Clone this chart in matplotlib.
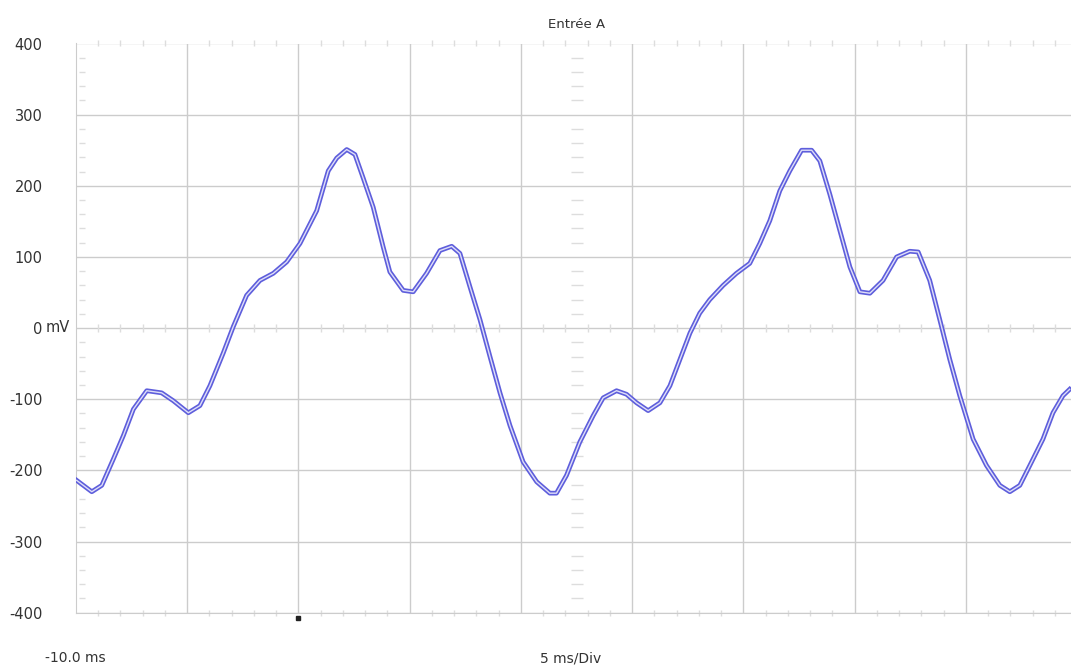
import numpy as np
import matplotlib
matplotlib.use('Agg')
import matplotlib.pyplot as plt

# trace: time in ms, voltage in mV
time_ms = [-9.97, -9.29, -8.84, -8.32, -7.87, -7.42, -6.82, -6.15, -5.63, -4.95,
           -4.43, -3.98, -3.38, -2.93, -2.33, -1.73, -1.13, -0.53, 0.07, 0.82,
           1.34, 1.72, 2.17, 2.54, 2.91, 3.36, 3.81, 4.11, 4.71, 5.16,
           5.76, 6.36, 6.89, 7.26, 7.71, 8.16, 8.61, 9.06, 9.51, 10.10,
           10.71, 11.30, 11.60, 12.05, 12.65, 13.25, 13.70, 14.30, 14.75, 15.20,
           15.72, 16.25, 16.70, 17.15, 17.60, 18.04, 18.49, 19.09, 19.69, 20.29,
           20.74, 21.19, 21.64, 22.09, 22.62, 23.07, 23.44, 23.89, 24.34, 24.79,
           25.24, 25.69, 26.28, 26.89, 27.48, 27.86, 28.38, 28.83, 29.28, 29.73,
           30.33, 30.93, 31.53, 31.98, 32.43, 32.88, 33.47, 33.92, 34.37, 34.67]
volt_mv = [-214, -230, -221, -184, -151, -114, -88, -91, -102, -119,
           -109, -81, -35, 2, 46, 67, 77, 93, 119, 165,
           221, 239, 251, 244, 211, 170, 114, 79, 53, 51,
           77, 109, 115, 105, 58, 12, -40, -91, -137, -188,
           -216, -232, -232, -207, -160, -123, -98, -88, -93, -105,
           -116, -105, -81, -44, -7, 21, 40, 60, 77, 91,
           119, 151, 193, 221, 250, 250, 235, 188, 137, 86,
           51, 49, 67, 100, 108, 107, 67, 12, -44, -95,
           -156, -193, -221, -230, -221, -193, -156, -119, -95, -86]

y_ticks = [400, 300, 200, 100, 0, -100, -200, -300, -400]
y_labels = ['400', '300', '200', '100', '0', '-100', '-200', '-300', '-400']

grid_col = '#cccccc'
minor_col = '#dddddd'
trace_col = '#5e5edc'

fig = plt.figure(figsize=(10.71, 6.68), dpi=100)
ax = fig.add_axes([76 / 1071, 55.3 / 668, 1001 / 1071, 569.2 / 668])
ax.set_xlim(-10, 35)
ax.set_ylim(-400, 400)

# major grid
for x in np.arange(-5, 35, 5):
    ax.axvline(x, color=grid_col, lw=1.0, zorder=1)
for y in y_ticks:
    ax.axhline(y, color=grid_col, lw=1.0, zorder=1)

# small graduations: top / bottom edges and the 0 line every 1 ms
minor_x = [v for v in np.arange(-10, 35, 1.0) if v % 5 != 0]
ax.plot(minor_x, [0] * len(minor_x), ls='none', marker='|', ms=6, color=minor_col, mew=1)
ax.plot(minor_x, [400] * len(minor_x), ls='none', marker='|', ms=5, color=minor_col, mew=1, clip_on=False)
ax.plot(minor_x, [-400] * len(minor_x), ls='none', marker='|', ms=5, color=minor_col, mew=1, clip_on=False)
# left edge and centre column every 20 mV
minor_y = [v for v in np.arange(-400, 401, 20) if v % 100 != 0]
ax.plot([-9.75] * len(minor_y), minor_y, ls='none', marker='_', ms=5, color=minor_col, mew=1)
ax.plot([12.5] * len(minor_y), minor_y, ls='none', marker='_', ms=8, color=minor_col, mew=1)

# double-line trace look
ax.plot(time_ms, volt_mv, color=trace_col, lw=3.4, zorder=3, solid_joinstyle='round')
ax.plot(time_ms, volt_mv, color='white', lw=1.0, alpha=0.8, zorder=4, solid_joinstyle='round')

# trigger marker
ax.plot(0, -407, marker='s', ms=3.5, color='#222222', clip_on=False, zorder=5)

for s in ['top', 'right']:
    ax.spines[s].set_visible(False)
for s in ['left', 'bottom']:
    ax.spines[s].set_color(grid_col)
ax.set_xticks([])
ax.set_yticks(y_ticks)
ax.set_yticklabels(y_labels, fontsize=10.5, color='#333333')
ax.tick_params(axis='y', length=0, pad=24)

fig.text(46 / 1071, 1 - 328 / 668, 'mV', ha='left', va='center', fontsize=10.5, color='#333333')
fig.text(577 / 1071, 1 - 24 / 668, 'Entrée A', ha='center', va='center', fontsize=9.5, color='#333333')
fig.text(45 / 1071, 1 - 658 / 668, '-10.0 ms', ha='left', va='center', fontsize=10, color='#333333')
fig.text(540 / 1071, 1 - 659 / 668, '5 ms/Div', ha='left', va='center', fontsize=10, color='#333333')

fig.savefig('out.png', dpi=100, facecolor='white')
